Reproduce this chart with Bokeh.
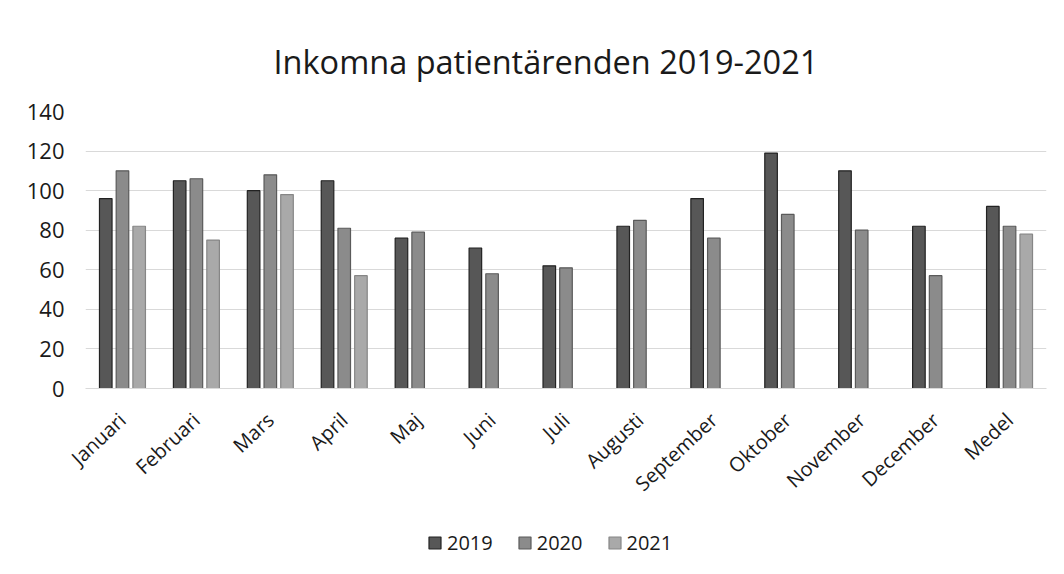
import math
from bokeh.plotting import figure
from bokeh.layouts import column
from bokeh.models import ColumnDataSource, FactorRange, Range1d, Legend, LegendItem
from bokeh.transform import dodge
from bokeh.embed import file_html
from bokeh.resources import INLINE

categories = ["Januari", "Februari", "Mars", "April", "Maj", "Juni", "Juli",
              "Augusti", "September", "Oktober", "November", "December", "Medel"]
series_names = ["2019", "2020", "2021"]
values_2019 = [96, 105, 100, 105, 76, 71, 62, 82, 96, 119, 110, 82, 92]
values_2020 = [110, 106, 108, 81, 79, 58, 61, 85, 76, 88, 80, 57, 82]
cats_2021 = ["Januari", "Februari", "Mars", "April", "Medel"]
values_2021 = [82, 75, 98, 57, 78]
y_ticks = [0, 20, 40, 60, 80, 100, 120, 140]

FONT = "Open Sans"
FILLS = ["#575757", "#8b8b8b", "#a9a9a9"]
LINES = ["#222222", "#5a5a5a", "#868686"]

p = figure(x_range=FactorRange(*categories), y_range=Range1d(0, 140),
           frame_width=961, frame_height=277, output_backend="svg", toolbar_location=None,
           min_border_left=85, min_border_right=10, min_border_top=111,
           min_border_bottom=130)
p.outline_line_color = None

p.title.text = "Inkomna patientärenden 2019-2021"
p.title.align = "left"
p.title.text_font = FONT
p.title.text_font_size = "32.5px"
p.title.text_font_style = "normal"
p.title.text_color = "#1a1a1a"
p.title.standoff = 56
p.title.offset = 188

s19 = ColumnDataSource(dict(x=categories, top=values_2019))
s20 = ColumnDataSource(dict(x=categories, top=values_2020))
s21 = ColumnDataSource(dict(x=cats_2021, top=values_2021))

w = 0.17
step = 0.226
p.vbar(x=dodge("x", -step, range=p.x_range), top="top", width=w, source=s19,
       fill_color=FILLS[0], line_color=LINES[0], line_width=1.2)
p.vbar(x=dodge("x", 0.0, range=p.x_range), top="top", width=w, source=s20,
       fill_color=FILLS[1], line_color=LINES[1], line_width=1.2)
p.vbar(x=dodge("x", step, range=p.x_range), top="top", width=w, source=s21,
       fill_color=FILLS[2], line_color=LINES[2], line_width=1.2)

p.xgrid.grid_line_color = None
p.ygrid.grid_line_color = "#d9d9d9"
p.ygrid.grid_line_width = 1
p.yaxis.ticker = y_ticks

for ax in (p.xaxis, p.yaxis):
    ax.axis_line_color = None
    ax.major_tick_line_color = None
    ax.minor_tick_line_color = None
    ax.major_label_text_font = FONT
    ax.major_label_text_color = "#1a1a1a"

p.yaxis.major_label_text_font_size = "22px"
p.yaxis.major_label_standoff = 15
p.xaxis.major_label_text_font_size = "20px"
p.xaxis.major_label_orientation = 0.75
p.xaxis.major_label_standoff = 22
p.xaxis.axis_line_color = "#d9d9d9"

# legend strip below the chart (proxy glyphs lie outside the visible range)
lf = figure(width=1056, height=48, output_backend="svg", toolbar_location=None,
            x_axis_type=None, y_axis_type=None,
            x_range=Range1d(0, 1), y_range=Range1d(10, 11),
            min_border_left=85, min_border_right=10, min_border_top=0, min_border_bottom=0)
lf.outline_line_color = None
items = []
for name, fc, lc in zip(series_names, FILLS, LINES):
    r = lf.vbar(x=[0.5], top=[0], bottom=[0], width=0.1,
                fill_color=fc, line_color=lc, line_width=1.2)
    items.append(LegendItem(label=name, renderers=[r]))

legend = Legend(items=items, orientation="horizontal", location=(342, 10))
legend.label_text_font = FONT
legend.label_text_font_size = "20px"
legend.label_text_color = "#1a1a1a"
legend.glyph_width = 15
legend.glyph_height = 15
legend.label_standoff = 5
legend.spacing = 24
legend.border_line_color = None
legend.background_fill_alpha = 0
legend.margin = 0
legend.padding = 0
lf.add_layout(legend)

layout = column(p, lf, spacing=0)
open("out.html", "w").write(file_html(layout, INLINE))
